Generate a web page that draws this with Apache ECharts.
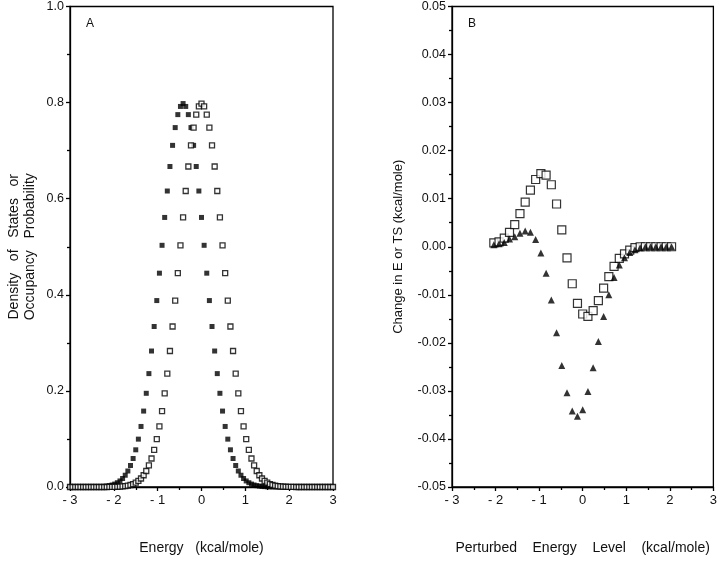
<!DOCTYPE html>
<html>
<head>
<meta charset="utf-8">
<script src="https://cdn.jsdelivr.net/npm/echarts@6/dist/echarts.min.js"></script>
<style>html,body{margin:0;padding:0;background:#fff}#c{width:720px;height:563px}</style>
</head>
<body>
<div id="c"></div>
<script>
// Panel A: energy grid (kcal/mole)
const energyA = [-3,-2.94,-2.88,-2.82,-2.76,-2.7,-2.64,-2.58,-2.52,-2.46,-2.4,-2.34,-2.28,-2.22,-2.16,-2.1,-2.04,-1.98,-1.92,-1.86,-1.8,-1.74,-1.68,-1.62,-1.56,-1.5,-1.44,-1.38,-1.32,-1.26,-1.2,-1.14,-1.08,-1.02,-0.96,-0.9,-0.84,-0.78,-0.72,-0.66,-0.6,-0.54,-0.48,-0.42,-0.36,-0.3,-0.24,-0.18,-0.12,-0.06,0,0.06,0.12,0.18,0.24,0.3,0.36,0.42,0.48,0.54,0.6,0.66,0.72,0.78,0.84,0.9,0.96,1.02,1.08,1.14,1.2,1.26,1.32,1.38,1.44,1.5,1.56,1.62,1.68,1.74,1.8,1.86,1.92,1.98,2.04,2.1,2.16,2.22,2.28,2.34,2.4,2.46,2.52,2.58,2.64,2.7,2.76,2.82,2.88,2.94,3];
// Density of states (open squares)
const densityOfStates = [0,0,0,0,0,0,0,0,0,0,0,0,0,0,0,
 0.0001,0.0002,0.0003,0.0005,0.0008,0.0012,0.0019,0.0028,0.0042,0.0061,0.0089,0.0126,0.0177,0.0245,0.0333,0.0448,0.0593,0.0774,0.0996,0.126,0.158,0.195,0.236,0.283,0.334,0.388,0.445,0.503,0.561,0.616,0.667,0.711,0.748,0.775,0.792,
 0.798,
 0.792,0.775,0.748,0.711,0.667,0.616,0.561,0.503,0.445,0.388,0.334,0.283,0.236,0.195,0.158,0.126,0.0996,0.0774,0.0593,0.0448,0.0333,0.0245,0.0177,0.0126,0.0089,0.0061,0.0042,0.0028,0.0019,0.0012,0.0008,0.0005,0.0003,0.0002,0.0001,
 0,0,0,0,0,0,0,0,0,0,0,0,0,0,0];
// Occupancy probability (filled squares)
const occupancy = [0,0,0,0,0,0,0,0,
 0.0001,0.0002,0.0003,0.0005,0.0008,0.0012,0.0019,0.0028,0.0042,0.0061,0.0089,0.0126,0.0177,0.0245,0.0333,0.0448,0.0593,0.0774,0.0996,0.126,0.158,0.195,0.236,0.283,0.334,0.388,0.445,0.503,0.561,0.616,0.667,0.711,0.748,0.775,0.792,
 0.798,
 0.792,0.775,0.748,0.711,0.667,0.616,0.561,0.503,0.445,0.388,0.334,0.283,0.236,0.195,0.158,0.126,0.0996,0.0774,0.0593,0.0448,0.0333,0.0245,0.0177,0.0126,0.0089,0.0061,0.0042,0.0028,0.0019,0.0012,0.0008,0.0005,0.0003,0.0002,0.0001,
 0,0,0,0,0,0,0,0,0,0,0,0,0,0,0,0,0,0,0,0,0,0];

// Panel B
const levelB = [-2.04,-1.92,-1.8,-1.68,-1.56,-1.44,-1.32,-1.2,-1.08,-0.96,-0.84,-0.72,-0.6,-0.48,-0.36,-0.24,-0.12,0,0.12,0.24,0.36,0.48,0.6,0.72,0.84,0.96,1.08,1.2,1.32,1.44,1.56,1.68,1.8,1.92,2.04];
const changeE = [0.0008,0.0010,0.0018,0.0030,0.0046,0.0069,0.0093,0.0118,0.0140,0.0152,0.0149,0.0129,0.0089,0.0035,-0.0023,-0.0077,-0.0118,-0.0140,-0.0145,-0.0133,-0.0112,-0.0086,-0.0062,-0.0041,-0.0024,-0.0015,-0.0007,-0.0002,0,0,0,0,0,0,0];
const changeTS = [0.0004,0.0006,0.0009,0.0016,0.0021,0.0028,0.0033,0.0030,0.0015,-0.0013,-0.0055,-0.0111,-0.0179,-0.0247,-0.0304,-0.0342,-0.0353,-0.0339,-0.0301,-0.0252,-0.0197,-0.0145,-0.0100,-0.0064,-0.0038,-0.0023,-0.0012,-0.0006,-0.0002,0,0,0,0,0,0];

const xTicks = [-3,-2,-1,0,1,2,3];

const pairs = (xs, ys) => xs.map((x, i) => [x, ys[i]]);
const font = 'Liberation Sans, Arial, Helvetica, sans-serif';
const lineStyle = {color: '#000', width: 1.3};
const xFmt = v => (v < 0 ? '- ' + Math.abs(v) : String(v));

function xAxis(gridIndex, name) {
  return {
    type: 'value', gridIndex, min: xTicks[0], max: xTicks[xTicks.length - 1], interval: 1,
    axisLine: {onZero: false, lineStyle}, axisTick: {length: 4, lineStyle},
    minorTick: {show: true, splitNumber: 2, length: 3, lineStyle},
    splitLine: {show: false},
    axisLabel: {formatter: xFmt, color: '#111', fontFamily: font, fontSize: 13, margin: 7},
    name, nameLocation: 'middle', nameGap: 54,
    nameTextStyle: {color: '#111', fontFamily: font, fontSize: 14}
  };
}

const chart = echarts.init(document.getElementById('c'), null, {renderer: 'canvas'});
chart.setOption({
  animation: false,
  backgroundColor: '#fff',
  grid: [
    {left: 70, top: 5, width: 263, height: 482, show: true, borderColor: '#000', borderWidth: 1.3, backgroundColor: 'transparent'},
    {left: 452, top: 5, width: 263, height: 482, show: true, borderColor: '#000', borderWidth: 1.3, backgroundColor: 'transparent'}
  ],
  xAxis: [xAxis(0, 'Energy   (kcal/mole)'), xAxis(1, 'Perturbed    Energy    Level    (kcal/mole)')],
  yAxis: [
    {
      type: 'value', gridIndex: 0, min: 0, max: 1, interval: 0.2,
      axisLine: {onZero: false, lineStyle}, axisTick: {length: 4, lineStyle},
      minorTick: {show: true, splitNumber: 2, length: 3, lineStyle},
      splitLine: {show: false},
      axisLabel: {formatter: v => v.toFixed(1), color: '#111', fontFamily: font, fontSize: 12.5, margin: 6},
      name: 'Density   of   States   or\nOccupancy   Probability', nameLocation: 'middle', nameRotate: 90, nameGap: 32,
      nameTextStyle: {color: '#111', fontFamily: font, fontSize: 14, lineHeight: 16}
    },
    {
      type: 'value', gridIndex: 1, min: -0.05, max: 0.05, interval: 0.01,
      axisLine: {onZero: false, lineStyle}, axisTick: {length: 4, lineStyle},
      minorTick: {show: true, splitNumber: 2, length: 3, lineStyle},
      splitLine: {show: false},
      axisLabel: {formatter: v => v.toFixed(2), color: '#111', fontFamily: font, fontSize: 12.5, margin: 6},
      name: 'Change in E or TS (kcal/mole)', nameLocation: 'middle', nameRotate: 90, nameGap: 47,
      nameTextStyle: {color: '#111', fontFamily: font, fontSize: 13}
    }
  ],
  series: [
    {type: 'scatter', xAxisIndex: 0, yAxisIndex: 0, symbol: 'rect', symbolSize: 5,
     itemStyle: {color: '#000'}, data: pairs(energyA, occupancy)},
    {type: 'scatter', xAxisIndex: 0, yAxisIndex: 0, symbol: 'rect', symbolSize: 5,
     itemStyle: {color: '#fff', borderColor: '#000', borderWidth: 1.3}, data: pairs(energyA, densityOfStates)},
    {type: 'scatter', xAxisIndex: 1, yAxisIndex: 1, symbol: 'rect', symbolSize: 8,
     itemStyle: {color: '#fff', borderColor: '#000', borderWidth: 1.2}, data: pairs(levelB, changeE)},
    {type: 'scatter', xAxisIndex: 1, yAxisIndex: 1, symbol: 'triangle', symbolSize: 7,
     itemStyle: {color: '#000'}, data: pairs(levelB, changeTS)}
  ],
  graphic: [
    {type: 'text', left: 86, top: 18, style: {text: 'A', fontFamily: font, fontSize: 12, fill: '#111'}},
    {type: 'text', left: 468, top: 18, style: {text: 'B', fontFamily: font, fontSize: 12, fill: '#111'}}
  ]
});
</script>
</body>
</html>
